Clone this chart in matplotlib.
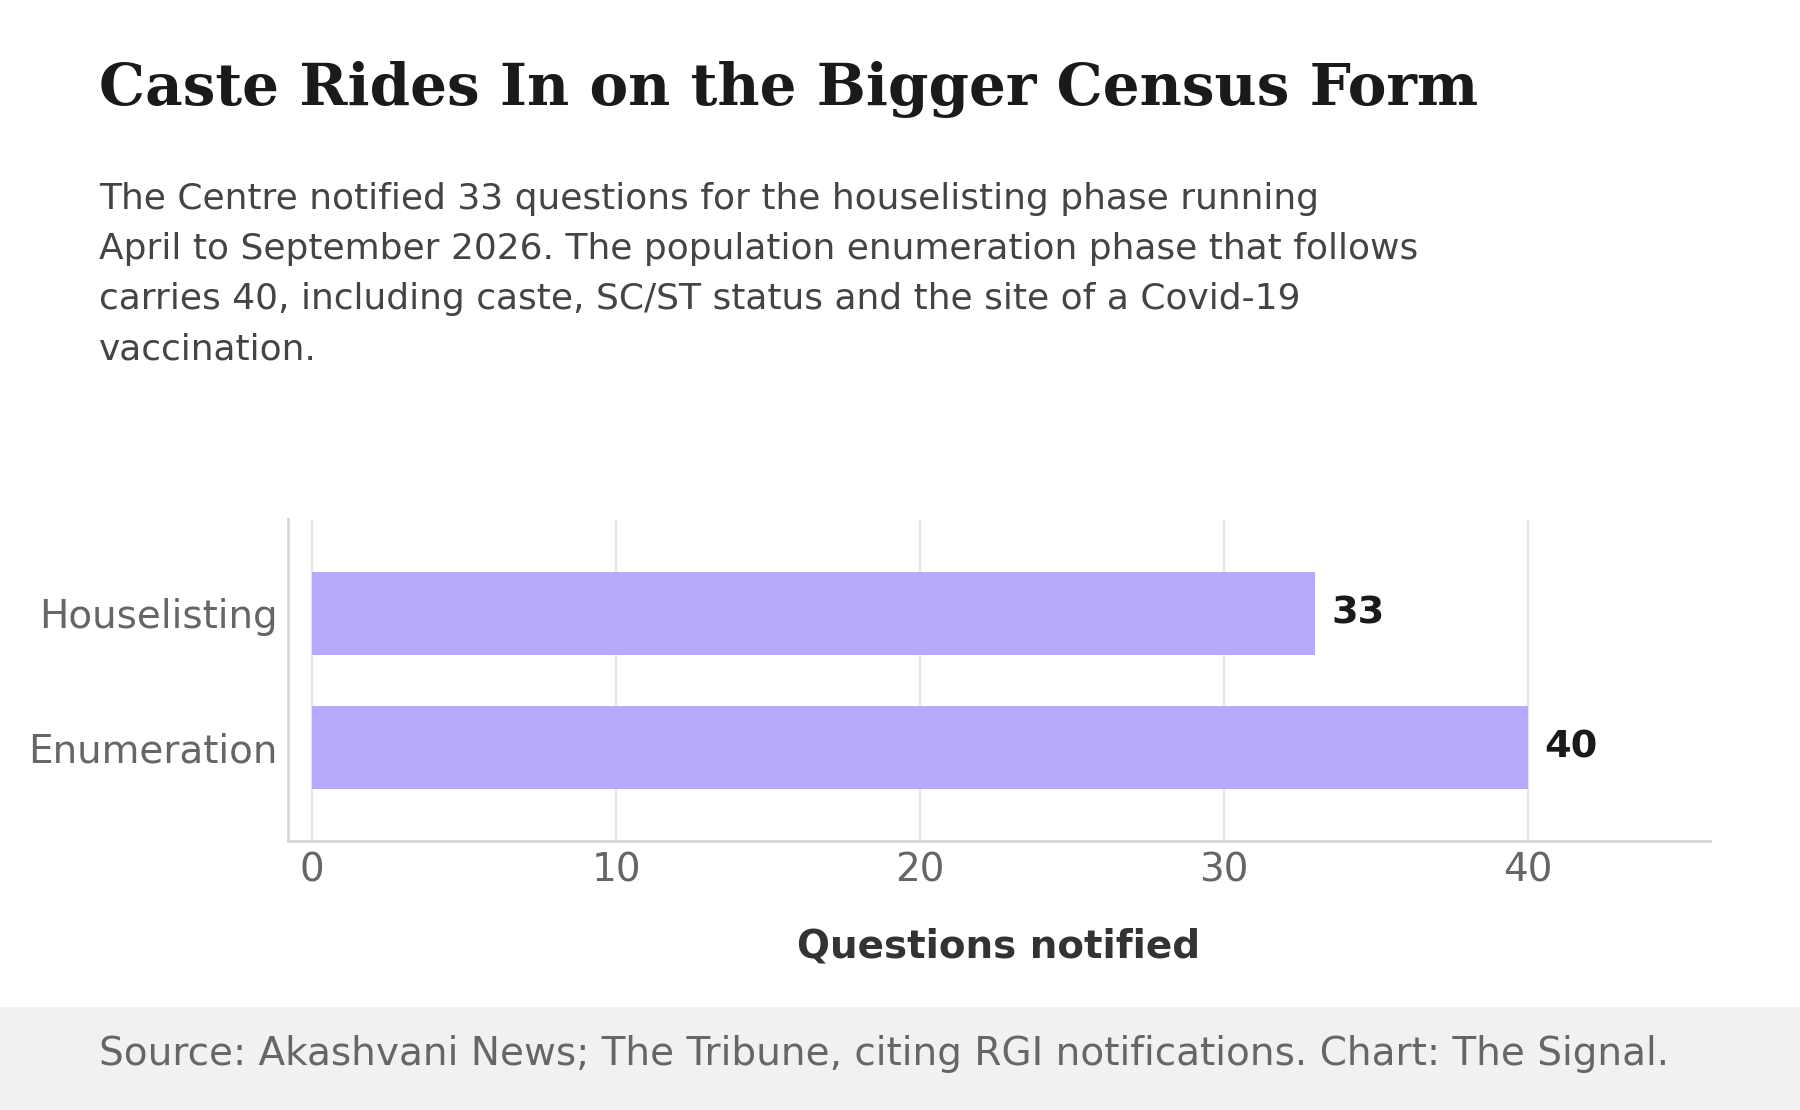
import matplotlib.pyplot as plt
from matplotlib.patches import Rectangle

# Data
phases = ['Houselisting', 'Enumeration']
questions = [33, 40]
xticks = [0, 10, 20, 30, 40]

title = 'Caste Rides In on the Bigger Census Form'
subtitle = ('The Centre notified 33 questions for the houselisting phase running\n'
            'April to September 2026. The population enumeration phase that follows\n'
            'carries 40, including caste, SC/ST status and the site of a Covid-19\n'
            'vaccination.')
source = 'Source: Akashvani News; The Tribune, citing RGI notifications. Chart: The Signal.'

bar_color = '#b8a9fc'

fig = plt.figure(figsize=(18, 11.1), dpi=100)
ax = fig.add_axes([0.16, 0.242, 0.79, 0.29])

# footer band
fig.patches.append(Rectangle((0, 0), 1, 0.0928, transform=fig.transFigure,
                             facecolor='#f2f1f0', edgecolor='none', zorder=0))

ypos = list(range(len(phases)))
ax.barh(ypos, questions, height=0.62, color=bar_color, zorder=3)
for y, v in zip(ypos, questions):
    ax.text(v + 0.55, y, str(v), va='center', ha='left', fontsize=27.5,
            fontweight='bold', color='#1a1a1a')

ax.set_yticks(ypos)
ax.set_yticklabels(phases)
ax.set_ylim(1.7, -0.7)
ax.set_xlim(-0.8, 46)
ax.set_xticks(xticks)
ax.tick_params(axis='both', length=0, labelsize=28, labelcolor='#666666')
ax.tick_params(axis='x', pad=7)
ax.tick_params(axis='y', pad=7.5)
ax.grid(axis='x', color='#e6e6e6', linewidth=1.5, zorder=0)
ax.set_axisbelow(True)
for s in ['top', 'right']:
    ax.spines[s].set_visible(False)
for s in ['left', 'bottom']:
    ax.spines[s].set_color('#d6d6d2')
    ax.spines[s].set_linewidth(2)

fig.text(0.555, 0.147, 'Questions notified', ha='center', va='center',
         fontsize=28, fontweight='bold', color='#333333')

fig.text(0.0548, 0.905, title, ha='left', va='baseline', fontsize=41.8,
         fontweight='bold', family='DejaVu Serif', color='#1a1a1a')
fig.text(0.0548, 0.836, subtitle, ha='left', va='top', fontsize=25.9,
         color='#444444', linespacing=1.6)
fig.text(0.0548, 0.0505, source, ha='left', va='center', fontsize=28.1,
         color='#666666')

fig.savefig('out.png', dpi=100)
